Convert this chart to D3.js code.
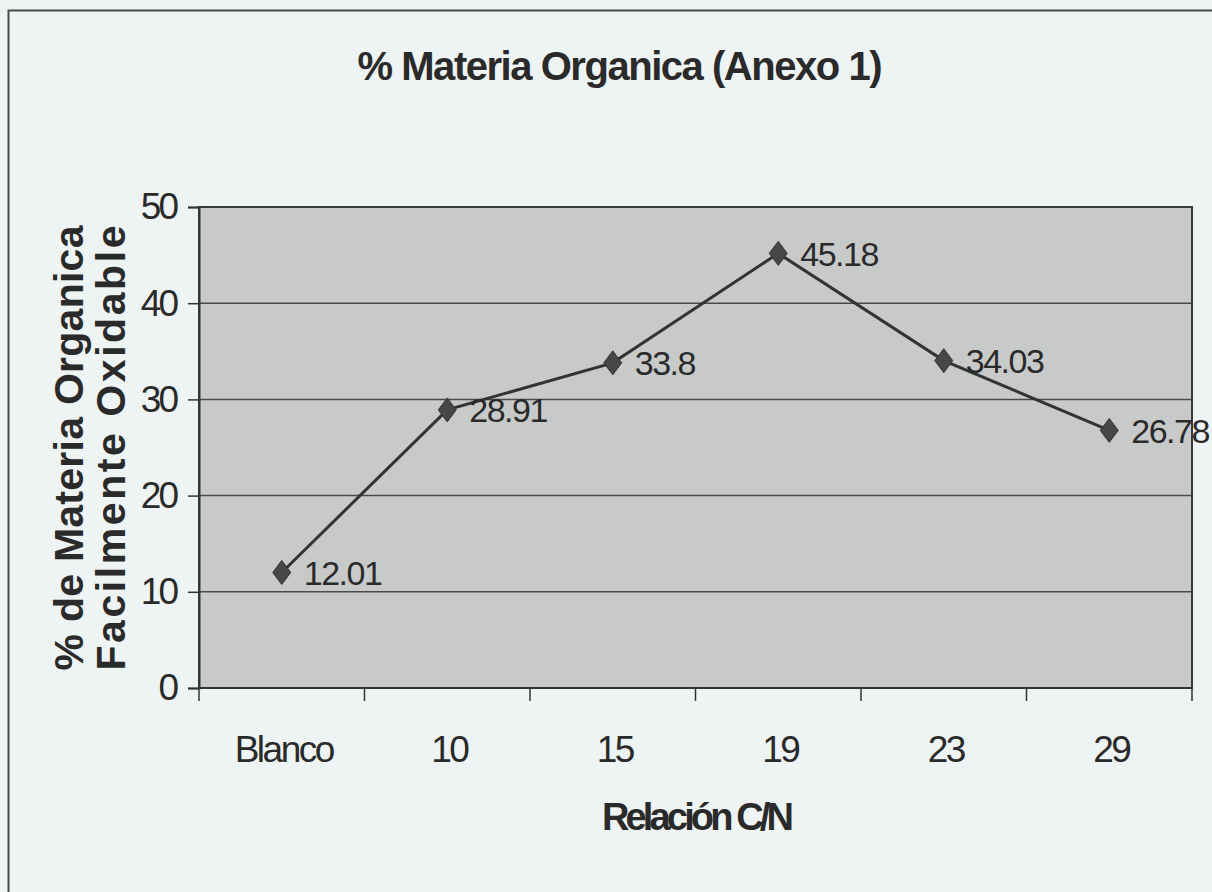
<!DOCTYPE html>
<html>
<head>
<meta charset="utf-8">
<script src="https://cdn.jsdelivr.net/npm/d3@7"></script>
<style>
  html, body { margin: 0; padding: 0; background: #eef3f3; }
  svg { display: block; }
  text { font-family: "Liberation Sans", Arial, sans-serif; fill: #2a2a2a; }
</style>
</head>
<body>
<svg id="chart" width="1212" height="892"></svg>
<script>
const categories = ["Blanco", "10", "15", "19", "23", "29"];
const values = [12.01, 28.91, 33.8, 45.18, 34.03, 26.78];
const valueLabels = ["12.01", "28.91", "33.8", "45.18", "34.03", "26.78"];
const yTicks = [0, 10, 20, 30, 40, 50];
const titleText = "% Materia Organica (Anexo 1)";
const yTitleLines = ["% de Materia Organica", "Facilmente Oxidable"];
const xTitleText = "Relación C/N";

const svg = d3.select("#chart");
const W = 1212, H = 892;
const plot = { left: 199, right: 1192, top: 207, bottom: 688 };

svg.append("rect").attr("width", W).attr("height", H).attr("fill", "#eef3f3");
// outer chart border (extends beyond the photographed area on right/bottom)
svg.append("rect")
  .attr("x", 8.5).attr("y", 10.5).attr("width", 1240).attr("height", 920)
  .attr("fill", "none").attr("stroke", "#4a4a4a").attr("stroke-width", 2);

const x = d3.scaleBand().domain(categories).range([plot.left, plot.right]).padding(0);
const y = d3.scaleLinear().domain([0, 50]).range([plot.bottom, plot.top]);

// plot area
svg.append("rect")
  .attr("x", plot.left).attr("y", plot.top)
  .attr("width", plot.right - plot.left).attr("height", plot.bottom - plot.top)
  .attr("fill", "#c8caca");

// gridlines
svg.append("g").selectAll("line").data(yTicks.filter(d => d > 0 && d < 50)).join("line")
  .attr("x1", plot.left).attr("x2", plot.right)
  .attr("y1", d => y(d)).attr("y2", d => y(d))
  .attr("stroke", "#4a4a4a").attr("stroke-width", 1.5);

// plot border
svg.append("rect")
  .attr("x", plot.left).attr("y", plot.top)
  .attr("width", plot.right - plot.left).attr("height", plot.bottom - plot.top)
  .attr("fill", "none").attr("stroke", "#3a3a3a").attr("stroke-width", 2);

// Y axis
const yAxis = svg.append("g")
  .attr("transform", `translate(${plot.left},0)`)
  .call(d3.axisLeft(y).tickValues(yTicks).tickSize(11).tickPadding(12).tickFormat(d3.format("d")));
yAxis.select(".domain").attr("stroke", "#333").attr("stroke-width", 2);
yAxis.selectAll(".tick line").attr("stroke", "#333").attr("stroke-width", 1.5);
yAxis.selectAll(".tick text")
  .attr("font-size", 37).attr("letter-spacing", -3).attr("fill", "#2a2a2a")
  .style("font-family", '"Liberation Sans", Arial, sans-serif');

// X axis: ticks at category boundaries
const boundaries = categories.map(c => x(c)).concat([x(categories[categories.length - 1]) + x.bandwidth()]);
svg.append("g").selectAll("line").data(boundaries).join("line")
  .attr("x1", d => d).attr("x2", d => d)
  .attr("y1", plot.bottom).attr("y2", plot.bottom + 13)
  .attr("stroke", "#333").attr("stroke-width", 1.5);
svg.append("line")
  .attr("x1", plot.left).attr("x2", plot.right)
  .attr("y1", plot.bottom).attr("y2", plot.bottom)
  .attr("stroke", "#333").attr("stroke-width", 2);
svg.append("g").selectAll("text").data(categories).join("text")
  .attr("x", d => x(d) + x.bandwidth() / 2 + 2)
  .attr("y", 762)
  .attr("text-anchor", "middle")
  .attr("font-size", 37).attr("letter-spacing", -2.5)
  .text(d => d);

// line
const pts = categories.map((c, i) => [x(c) + x.bandwidth() / 2, y(values[i])]);
svg.append("path")
  .attr("d", d3.line()(pts))
  .attr("fill", "none").attr("stroke", "#333").attr("stroke-width", 3);

// markers
svg.append("g").selectAll("path").data(pts).join("path")
  .attr("transform", d => `translate(${d[0]},${d[1]})`)
  .attr("d", "M0,-12L9,0L0,12L-9,0Z")
  .attr("fill", "#474747").attr("stroke", "#333").attr("stroke-width", 1);

// data labels
svg.append("g").selectAll("text").data(pts).join("text")
  .attr("x", d => d[0] + 22)
  .attr("y", d => d[1])
  .attr("dy", "0.36em")
  .attr("font-size", 34).attr("letter-spacing", -1.5)
  .text((d, i) => valueLabels[i]);

// title
svg.append("text")
  .attr("x", 620).attr("y", 80)
  .attr("text-anchor", "middle")
  .attr("font-size", 40).attr("font-weight", "bold")
  .attr("textLength", 525).attr("lengthAdjust", "spacing")
  .text(titleText);

// y axis title
const yTitle = svg.append("g").attr("transform", "translate(0,448) rotate(-90)");
yTitleLines.forEach((t, i) => {
  yTitle.append("text")
    .attr("x", 0).attr("y", 83 + i * 42)
    .attr("text-anchor", "middle")
    .attr("font-size", 41).attr("font-weight", "bold")
    .attr("textLength", 445).attr("lengthAdjust", "spacing")
    .text(t);
});

// x axis title
svg.append("text")
  .attr("x", 698).attr("y", 830)
  .attr("text-anchor", "middle")
  .attr("font-size", 38).attr("font-weight", "bold")
  .attr("textLength", 192).attr("lengthAdjust", "spacing")
  .text(xTitleText);
</script>
</body>
</html>
